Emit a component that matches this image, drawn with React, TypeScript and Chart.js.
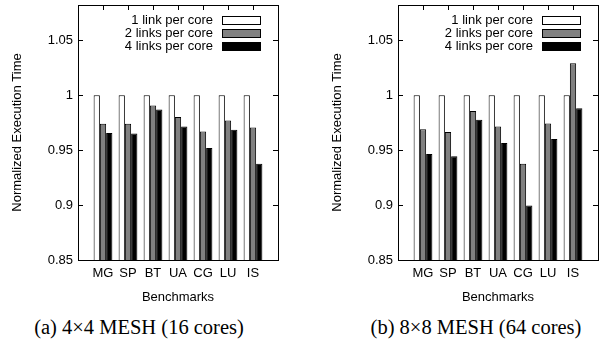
import React, { useEffect, useRef } from 'react';
import { Chart, registerables } from 'chart.js';

Chart.register(...registerables);

const categories = ['MG', 'SP', 'BT', 'UA', 'CG', 'LU', 'IS'];
const seriesNames = ['1 link per core', '2 links per core', '4 links per core'];
const seriesColors = ['#ffffff', '#808080', '#000000'];

const mesh4x4_1link = [1, 1, 1, 1, 1, 1, 1];
const mesh4x4_2links = [0.974, 0.974, 0.9905, 0.98, 0.967, 0.977, 0.9705];
const mesh4x4_4links = [0.9655, 0.965, 0.987, 0.9715, 0.952, 0.9685, 0.9375];

const mesh8x8_1link = [1, 1, 1, 1, 1, 1, 1];
const mesh8x8_2links = [0.969, 0.9665, 0.9855, 0.9715, 0.9375, 0.9742, 1.029];
const mesh8x8_4links = [0.9465, 0.9443, 0.9775, 0.9565, 0.8995, 0.96, 0.988];

const yTicks = [0.85, 0.9, 0.95, 1, 1.05];
const yMin = 0.85;
const yMax = 1.082;

const xTitle = 'Benchmarks';
const yTitle = 'Normalized Execution Time';
const captions = ['(a) 4\u00d74 MESH (16 cores)', '(b) 8\u00d78 MESH (64 cores)'];

const SANS = '"Liberation Sans", Arial, Helvetica, sans-serif';

const framePlugin = {
  id: 'gnuplotFrame',
  afterDraw(chart: any) {
    const { ctx, chartArea } = chart;
    const { left, right, top, bottom } = chartArea;
    const yScale = chart.scales.y;
    const xScale = chart.scales.x;
    ctx.save();
    ctx.strokeStyle = '#000';
    ctx.lineWidth = 1;
    ctx.beginPath();
    yTicks.forEach((v) => {
      const py = Math.round(yScale.getPixelForValue(v)) + 0.5;
      ctx.moveTo(left, py);
      ctx.lineTo(left + 5, py);
      ctx.moveTo(right, py);
      ctx.lineTo(right - 5, py);
    });
    categories.forEach((_, i) => {
      const px = Math.round(xScale.getPixelForValue(i + 1)) + 0.5;
      ctx.moveTo(px, top);
      ctx.lineTo(px, top + 5);
    });
    ctx.stroke();
    ctx.strokeRect(Math.round(left) + 0.5, Math.round(top) + 0.5, Math.round(right - left), Math.round(bottom - top));
    ctx.font = '13px ' + SANS;
    ctx.textAlign = 'right';
    ctx.textBaseline = 'middle';
    ctx.fillStyle = '#000';
    seriesNames.forEach((name, i) => {
      const cy = top + 15 + i * 13;
      ctx.fillText(name, right - 65, cy + 0.5);
      const sx = Math.round(right - 56) + 0.5;
      const sy = Math.round(cy - 4) + 0.5;
      ctx.fillStyle = seriesColors[i];
      ctx.fillRect(sx, sy, 38, 8);
      ctx.strokeRect(sx, sy, 38, 8);
      ctx.fillStyle = '#000';
    });
    ctx.restore();
  },
};

function BarPanel({ series }: { series: number[][] }) {
  const ref = useRef<HTMLCanvasElement>(null);
  useEffect(() => {
    if (!ref.current) return;
    const labels = ['', ...categories, ''];
    const font = { family: SANS, size: 13 };
    const chart = new Chart(ref.current, {
      type: 'bar',
      data: {
        labels,
        datasets: series.map((vals, i) => ({
          label: seriesNames[i],
          data: [null, ...vals, null],
          backgroundColor: seriesColors[i],
          borderColor: '#000',
          borderWidth: 1,
          categoryPercentage: 0.75,
          barPercentage: 1,
        })),
      },
      options: {
        responsive: false,
        animation: false,
        layout: { padding: { top: 5, right: 2, left: 0, bottom: 0 } },
        plugins: { legend: { display: false }, tooltip: { enabled: false } },
        scales: {
          x: {
            type: 'category',
            offset: false,
            grid: { display: false, drawTicks: false },
            border: { display: false },
            ticks: { font, color: '#000', padding: 6, maxRotation: 0, autoSkip: false },
            title: { display: true, text: xTitle, font, color: '#000', padding: { top: 4, bottom: 0 } },
            afterFit: (a: any) => {
              a.height = 45;
              a.paddingLeft = 0;
              a.paddingRight = 0;
            },
          },
          y: {
            min: yMin,
            max: yMax,
            grid: { display: false, drawTicks: false },
            border: { display: false },
            afterBuildTicks: (a: any) => {
              a.ticks = yTicks.map((v) => ({ value: v }));
            },
            ticks: { font, color: '#000', padding: 5, callback: (v: any) => String(v) },
            title: { display: true, text: yTitle, font, color: '#000', padding: { top: 10, bottom: 0 } },
            afterFit: (a: any) => {
              a.width = 78;
              a.paddingTop = 0;
              a.paddingBottom = 0;
            },
          },
        },
      },
      plugins: [framePlugin],
    } as any);
    return () => chart.destroy();
  }, [series]);
  return <canvas ref={ref} width={280} height={305} style={{ display: 'block', width: 280, height: 305 }} />;
}

const panelSeries = [
  [mesh4x4_1link, mesh4x4_2links, mesh4x4_4links],
  [mesh8x8_1link, mesh8x8_2links, mesh8x8_4links],
];

export default function App() {
  const captionStyle: React.CSSProperties = {
    position: 'absolute',
    top: 316,
    width: 300,
    textAlign: 'center',
    fontFamily: '"Liberation Serif", "Times New Roman", serif',
    fontSize: 20.5,
    lineHeight: '22px',
    color: '#000',
    whiteSpace: 'nowrap',
  };
  return (
    <div style={{ position: 'absolute', left: 0, top: 0, width: 600, height: 343, background: '#fff', overflow: 'hidden' }}>
      <div style={{ position: 'absolute', left: 0, top: 0 }}>
        <BarPanel series={panelSeries[0]} />
      </div>
      <div style={{ position: 'absolute', left: 320, top: 0 }}>
        <BarPanel series={panelSeries[1]} />
      </div>
      <div style={{ ...captionStyle, left: -11 }}>{captions[0]}</div>
      <div style={{ ...captionStyle, left: 326 }}>{captions[1]}</div>
    </div>
  );
}
